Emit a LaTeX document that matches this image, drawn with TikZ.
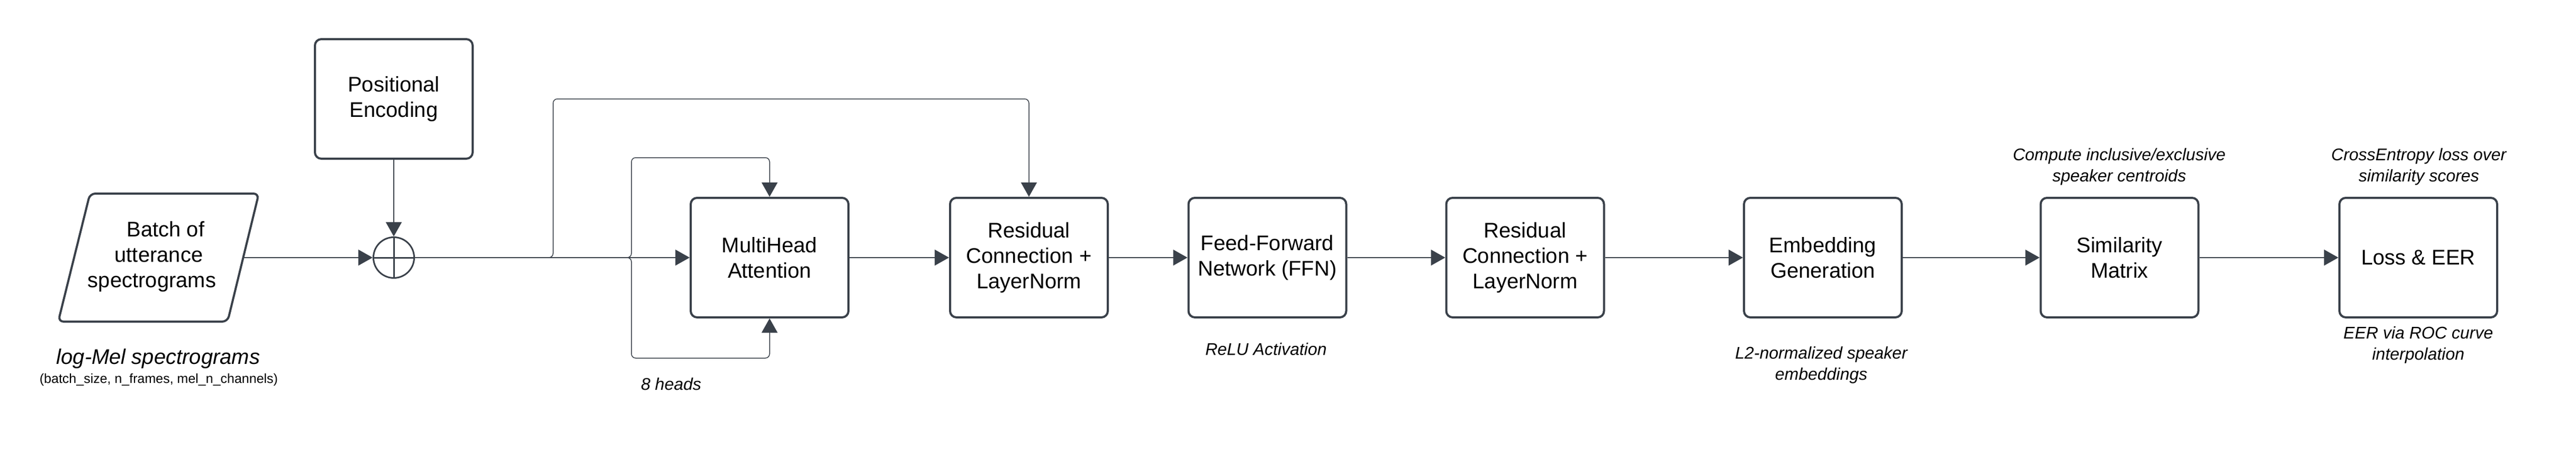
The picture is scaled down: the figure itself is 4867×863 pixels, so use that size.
\documentclass[tikz,border=0pt]{standalone}
\usepackage{fontspec}
\setmainfont{Liberation Sans}
\usetikzlibrary{arrows.meta}
\definecolor{ink}{HTML}{3A414A}
\begin{document}
\begin{tikzpicture}[x=1pt,y=-1pt,
  box/.style={draw=ink, line width=4pt, rounded corners=12pt, fill=white,
    minimum width=298pt, minimum height=226pt, inner sep=0pt, align=center,
    font=\fontsize{40}{48}\selectfont},
  conn/.style={draw=ink, line width=1.5pt, -{Triangle[length=27pt,width=30pt]}},
  roundconn/.style={conn, rounded corners=8pt},
  lbl/.style={align=center, inner sep=0pt, font=\fontsize{32}{40}\selectfont\itshape},
]
\useasboundingbox (0,0) rectangle (4867,863);

% input parallelogram
\draw[ink, line width=4pt, rounded corners=10pt]
  (330,366) -- (489,366) -- (430,608) -- (110,608) -- (170,366) -- cycle;
\node[align=center, inner sep=0pt, font=\fontsize{40}{48}\selectfont] (inp) at (300,485)
  {\rule{26pt}{0pt}Batch of\\utterance\\spectrograms\rule{26pt}{0pt}};
\coordinate (inR) at (459.5,487);

% boxes
\node[box] (pe)   at (744,187)  {Positional\\Encoding};
\node[box] (mha)  at (1454,487) {MultiHead\\Attention};
\node[box] (res1) at (1944,487) {Residual\\Connection +\\LayerNorm};
\node[box] (ffn)  at (2394.5,487) {Feed-Forward\\Network (FFN)};
\node[box] (res2) at (2881.5,487) {Residual\\Connection +\\LayerNorm};
\node[box] (emb)  at (3444,487) {Embedding\\Generation};
\node[box] (sim)  at (4004.5,487) {Similarity\\Matrix};
\node[box] (loss) at (4569,487) {Loss \& EER};

% adder
\node[circle, draw=ink, line width=3pt, minimum size=77pt, inner sep=0pt] (add) at (744,487) {};
\draw[ink, line width=3pt] (add.north) -- (add.south) (add.west) -- (add.east);

% routing points
\coordinate (sk)  at (1045,487);
\coordinate (skt) at (1045,187);
\coordinate (br)  at (1193,487);
\coordinate (brt) at (1193,298);
\coordinate (brb) at (1193,677);

% connectors
\draw[conn] (inR) -- (add.west);
\draw[conn] (pe.south) -- (add.north);
\draw[roundconn] (add.east) -- (sk) -- (skt) -| (res1.north);
\draw[roundconn] (add.east) -- (br) -- (brt) -| (mha.north);
\draw[roundconn] (add.east) -- (br) -- (brb) -| (mha.south);
\draw[conn] (add.east) -- (mha.west);
\draw[conn] (mha.east) -- (res1.west);
\draw[conn] (res1.east) -- (ffn.west);
\draw[conn] (ffn.east) -- (res2.west);
\draw[conn] (res2.east) -- (emb.west);
\draw[conn] (emb.east) -- (sim.west);
\draw[conn] (sim.east) -- (loss.west);

% labels
\node[lbl, font=\fontsize{40}{48}\selectfont\itshape] (logmel) at (299,678) {log-Mel spectrograms};
\node[inner sep=0pt, font=\fontsize{25}{30}\selectfont] (shapes) at (300,718) {(batch\_size, n\_frames, mel\_n\_channels)};
\node[lbl] (heads) at (1268,726) {8 heads};
\node[lbl] (relu)  at (2392,660) {ReLU Activation};
\node[lbl] (l2)    at (3441,690) {L2-normalized speaker\\embeddings};
\node[lbl] (cent)  at (4004,315) {Compute inclusive/exclusive\\speaker centroids};
\node[lbl] (ce)    at (4570,315) {CrossEntropy loss over\\similarity scores};
\node[lbl] (eer)   at (4569,652) {EER via ROC curve\\interpolation};
\end{tikzpicture}
\end{document}
